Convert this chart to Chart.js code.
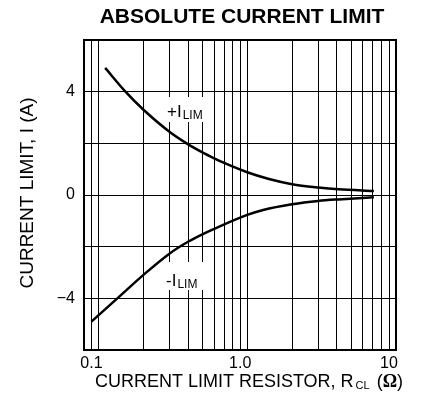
<!DOCTYPE html>
<html>
<head>
<meta charset="utf-8">
<script src="https://cdn.jsdelivr.net/npm/chart.js@4/dist/chart.umd.min.js"></script>
<style>
  body { margin: 0; background: #fff; }
  #wrap { width: 422px; height: 400px; }
</style>
</head>
<body>
<div id="wrap"><canvas id="myChart" width="422" height="400"></canvas></div>
<script>
// data (R in ohms, I in amps)
const plusR = [0.111, 0.152, 0.2, 0.3, 0.394, 0.5, 0.6, 0.7, 1.0, 1.4, 2.0, 3.0, 4.1, 7.1];
const plusI = [4.92, 4.0, 3.31, 2.45, 1.99, 1.65, 1.42, 1.24, 0.88, 0.62, 0.42, 0.29, 0.22, 0.155];
const minusR = [0.0897, 0.134, 0.2, 0.3, 0.4, 0.5, 0.6, 1.0, 1.28, 2.0, 3.0, 4.1, 7.1];
const minusI = [-4.9, -4.0, -3.1, -2.27, -1.81, -1.52, -1.31, -0.77, -0.58, -0.36, -0.23, -0.17, -0.09];

// grid lines on the log axis and the labelled ticks
const xGrid = [0.08, 0.09, 0.1, 0.2, 0.3, 0.4, 0.5, 0.6, 0.7, 0.8, 0.9,
               1, 2, 3, 4, 5, 6, 7, 8, 9, 10];
const xLabels = { 0.1: '0.1', 1: '1.0', 10: '10' };
const yLabels = { 4: '4', 0: '0', '-4': '\u22124' };

const FONT = "'Liberation Sans', Arial, sans-serif";

function toPoints(xs, ys) {
  return xs.map((x, i) => ({ x: x, y: ys[i] }));
}

// text with a subscript, e.g. +I with LIM below
function subText(ctx, x, y, main, sub, size, subSize, box) {
  if (box) {
    ctx.fillStyle = '#fff';
    ctx.fillRect(box[0], box[1], box[2], box[3]);
  }
  ctx.fillStyle = '#000';
  ctx.textAlign = 'left';
  ctx.textBaseline = 'alphabetic';
  ctx.font = size + 'px ' + FONT;
  const w1 = ctx.measureText(main).width;
  ctx.fillText(main, x, y);
  ctx.font = subSize + 'px ' + FONT;
  ctx.fillText(sub, x + w1 + 1, y + 2);
}

const extras = {
  id: 'extras',
  afterDraw(chart) {
    const ctx = chart.ctx;
    const a = chart.chartArea;
    ctx.save();

    // frame
    ctx.strokeStyle = '#000';
    ctx.lineWidth = 2;
    ctx.strokeRect(a.left, a.top, a.right - a.left, a.bottom - a.top);

    // title
    ctx.fillStyle = '#000';
    ctx.font = 'bold 21px ' + FONT;
    ctx.textAlign = 'center';
    ctx.textBaseline = 'alphabetic';
    ctx.fillText('ABSOLUTE CURRENT LIMIT', 242, 23);

    // curve labels
    subText(ctx, 167, 117, '+I', 'LIM', 17, 12, [165, 97, 43, 25]);
    subText(ctx, 166, 286, '-I', 'LIM', 17, 12, [164, 262, 44, 28]);

    // y title
    ctx.save();
    ctx.translate(33, 193);
    ctx.rotate(-Math.PI / 2);
    ctx.font = '19px ' + FONT;
    ctx.textAlign = 'center';
    ctx.fillStyle = '#000';
    ctx.fillText('CURRENT LIMIT, I (A)', 0, 0);
    ctx.restore();

    // x title: CURRENT LIMIT RESISTOR, R_CL (Ω)
    const p1 = 'CURRENT LIMIT RESISTOR, R';
    const p2 = 'CL';
    const p3 = ' (';
    const p4 = '\u03A9';
    const p5 = ')';
    ctx.font = '18px ' + FONT;
    const w1 = ctx.measureText(p1).width;
    const w3 = ctx.measureText(p3).width;
    const w5 = ctx.measureText(p5).width;
    ctx.font = '11px ' + FONT;
    const w2 = ctx.measureText(p2).width + 2;
    ctx.font = 'bold 18px "Liberation Serif", serif';
    const w4 = ctx.measureText(p4).width;
    let x = 248 - (w1 + w2 + w3 + w4 + w5) / 2;
    const base = 387;
    ctx.textAlign = 'left';
    ctx.font = '18px ' + FONT;
    ctx.fillText(p1, x, base);
    x += w1 + 2;
    ctx.font = '11px ' + FONT;
    ctx.fillText(p2, x, base + 2);
    x += w2;
    ctx.font = '18px ' + FONT;
    ctx.fillText(p3, x, base);
    x += w3;
    ctx.font = 'bold 18px "Liberation Serif", serif';
    ctx.fillText(p4, x, base);
    x += w4;
    ctx.font = '18px ' + FONT;
    ctx.fillText(p5, x, base);

    ctx.restore();
  }
};

const ctx = document.getElementById('myChart').getContext('2d');

const myChart = new Chart(ctx, {
  type: 'line',
  data: {
    datasets: [{
      label: '+ILIM',
      data: toPoints(plusR, plusI),
      borderColor: '#000',
      borderWidth: 2.5,
      pointRadius: 0,
      cubicInterpolationMode: 'monotone',
      fill: false
    }, {
      label: '-ILIM',
      data: toPoints(minusR, minusI),
      borderColor: '#000',
      borderWidth: 2.5,
      pointRadius: 0,
      cubicInterpolationMode: 'monotone',
      fill: false
    }]
  },
  options: {
    responsive: false,
    animation: false,
    layout: { padding: { top: 40, right: 26, left: 0, bottom: 0 } },
    plugins: {
      legend: { display: false },
      title: { display: false },
      tooltip: { enabled: false }
    },
    scales: {
      x: {
        type: 'logarithmic',
        min: 0.08,
        max: 10,
        afterBuildTicks: (scale) => {
          scale.ticks = xGrid.map(v => ({ value: v }));
        },
        afterFit: (scale) => { scale.height = 50; },
        grid: { color: '#000', lineWidth: 1, drawTicks: false },
        border: { color: '#000', width: 2 },
        ticks: {
          autoSkip: false,
          maxRotation: 0,
          padding: 4,
          labelOffset: -7,
          color: '#000',
          font: { family: FONT, size: 16 },
          callback: (value) => xLabels[value] || ''
        }
      },
      y: {
        min: -6,
        max: 6,
        afterFit: (scale) => { scale.width = 84; },
        grid: { color: '#000', lineWidth: 1, drawTicks: false },
        border: { color: '#000', width: 2 },
        ticks: {
          stepSize: 2,
          padding: 9,
          color: '#000',
          font: { family: FONT, size: 16 },
          callback: (value) => yLabels[value] || ''
        }
      }
    }
  },
  plugins: [extras]
});
</script>
</body>
</html>
